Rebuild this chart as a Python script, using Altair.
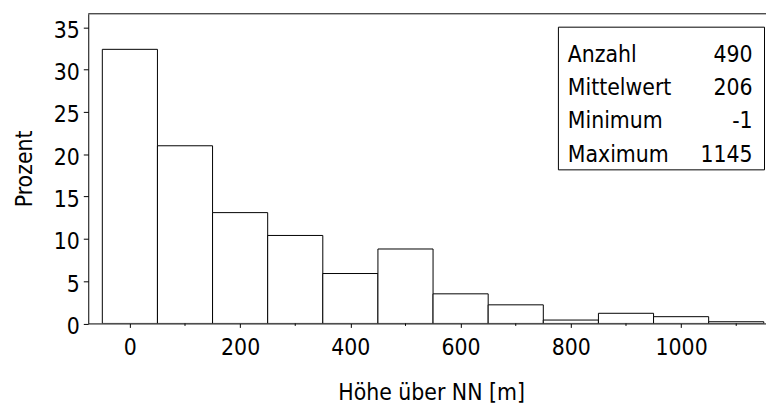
import altair as alt
import pandas as pd

# ---- data ----
bin_centers = [0, 100, 200, 300, 400, 500, 600, 700, 800, 900, 1000, 1100]
percent = [32.4, 21.0, 13.1, 10.4, 5.9, 8.8, 3.5, 2.2, 0.4, 1.2, 0.8, 0.2]
bin_width = 100
x_ticks = [0, 200, 400, 600, 800, 1000]
x_minor_ticks = [100, 300, 500, 700, 900, 1100]
y_ticks = [0, 5, 10, 15, 20, 25, 30, 35]
stats_labels = ["Anzahl", "Mittelwert", "Minimum", "Maximum"]
stats_values = ["490", "206", "-1", "1145"]

df = pd.DataFrame({"center": bin_centers, "pct": percent})
df["start"] = df["center"] - bin_width / 2
df["end"] = df["center"] + bin_width / 2
minor_df = pd.DataFrame({"m": x_minor_ticks})

FONT = "DejaVu Sans Condensed"
FS = 23
W, H = 684, 312.5

xscale = alt.Scale(domain=[-75.5, 1154], nice=False, zero=False)
yscale = alt.Scale(domain=[0, 36.6], nice=False)

bars = alt.Chart(df).mark_bar(
    fill="white", stroke="black", strokeWidth=1, clip=True
).encode(
    x=alt.X("start:Q", scale=xscale, axis=alt.Axis(
        values=x_ticks, format="d", tickSize=4, tickColor="black", domainColor="black",
        labelFont=FONT, labelFontSize=FS, labelColor="black", labelPadding=9,
        labelFlush=False, grid=False,
        title="Höhe über NN [m]", titleFont=FONT, titleFontSize=FS,
        titleFontWeight="normal", titleColor="black",
        titleX=346, titleY=77, titleBaseline="alphabetic", titleAlign="center",
    )),
    x2="end:Q",
    y=alt.Y("pct:Q", scale=yscale, axis=alt.Axis(
        values=y_ticks, tickSize=5, tickColor="black", domainColor="black",
        labelFont=FONT, labelFontSize=FS, labelColor="black", labelPadding=4,
        labelOffset=3, grid=False,
        title="Prozent", titleFont=FONT, titleFontSize=FS,
        titleFontWeight="normal", titleColor="black",
        titleAngle=-90, titleX=-57, titleY=156, titleBaseline="alphabetic",
        titleAlign="center",
    )),
    y2=alt.datum(0),
)

minor = alt.Chart(minor_df).mark_rule(color="black", strokeWidth=1).encode(
    x=alt.X("m:Q", scale=xscale),
    y=alt.value(H),
    y2=alt.value(H + 2.5),
)

top_border = alt.Chart(alt.Data(values=[{}])).mark_rule(
    color="black", strokeWidth=1
).encode(y=alt.value(0))

box = alt.Chart(alt.Data(values=[{}])).mark_rect(
    fill="white", stroke="black", strokeWidth=1
).encode(
    x=alt.value(474.5), x2=alt.value(682.5),
    y=alt.value(13.5), y2=alt.value(157.5),
)

stat_lab = alt.Chart(alt.Data(values=[{}])).mark_text(
    align="left", baseline="alphabetic", font=FONT, fontSize=FS,
    color="black", lineHeight=33.6,
).encode(x=alt.value(484), y=alt.value(48.5), text=alt.value(stats_labels))

stat_val = alt.Chart(alt.Data(values=[{}])).mark_text(
    align="right", baseline="alphabetic", font=FONT, fontSize=FS,
    color="black", lineHeight=33.6,
).encode(x=alt.value(670.5), y=alt.value(48.5), text=alt.value(stats_values))

chart = alt.layer(bars, minor, top_border, box, stat_lab, stat_val).properties(
    width=W, height=H,
    padding={"left": 81, "top": 4, "right": 0, "bottom": 85},
    autosize=alt.AutoSizeParams(type="none"),
    background="white",
).configure_view(stroke=None)

chart.save("out.html", embed_options={"renderer": "svg", "actions": False})
